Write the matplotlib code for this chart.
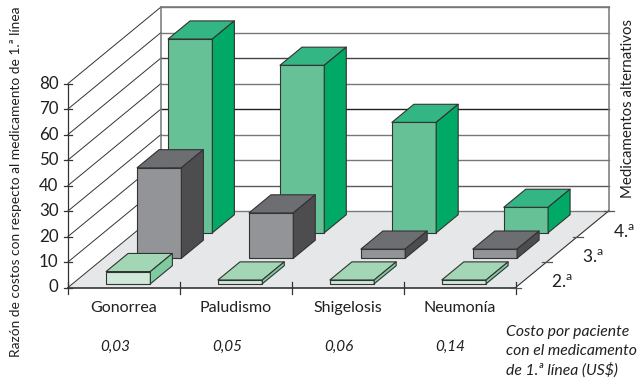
import matplotlib
matplotlib.use("Agg")
import matplotlib.pyplot as plt
from matplotlib.patches import Polygon

plt.rcParams['font.family'] = ['Lato', 'DejaVu Sans']

# === Data ===
categories = ['Gonorrea', 'Paludismo', 'Shigelosis', 'Neumonía']
costs = ['0,03', '0,05', '0,06', '0,14']
lines = ['2.$^{\\mathregular{a}}$', '3.$^{\\mathregular{a}}$', '4.$^{\\mathregular{a}}$']
second_line = [4.8, 1.5, 1.5, 1.5]
third_line = [35.5, 17.8, 3.6, 3.6]
fourth_line = [76, 65.7, 43.3, 10]
y_ticks = [0, 10, 20, 30, 40, 50, 60, 70, 80]

# === Geometry of the fake 3D box, in pixels ===
x0, y0 = 68, 287.5
cat_w = 111.9
unit = 2.55
dep_x, dep_y = 31, 25.5
bar_w = 0.396
bar_d = 0.71
gap_x = 0.30
gap_d = 0.145


def proj(cat, row, val):
    # cat = position along categories, row = depth, val = height
    return (x0 + cat * cat_w + row * dep_x, y0 - row * dep_y - val * unit)


fig = plt.figure(figsize=(6.43, 3.89), dpi=100)
ax = fig.add_axes([0, 0, 1, 1])
ax.set_xlim(0, 643)
ax.set_ylim(389, 0)
ax.axis('off')

dark = '#333333'
txt = '#231f20'
n_cat = len(categories)
n_row = len(lines)

# Floor
ax.add_patch(Polygon([proj(0, 0, 0), proj(n_cat, 0, 0), proj(n_cat, n_row, 0), proj(0, n_row, 0)],
                     fc='#e6e7e8', ec='none', zorder=1))

# Back and side walls
grid_colors = ['#7a7a7a', '#5a5a5a', '#777777', '#777777', '#222222', '#777777', '#444444', '#777777', '#777777']
for v, c in zip(y_ticks, grid_colors):
    a, b, d = proj(0, 0, v), proj(0, n_row, v), proj(n_cat, n_row, v)
    ax.plot([a[0], b[0]], [a[1], b[1]], color='#333333', lw=0.7, zorder=2)
    ax.plot([b[0], d[0]], [b[1], d[1]], color=c, lw=1.0, zorder=2)
top = 80
ax.plot(*zip(proj(0, n_row, 0), proj(0, n_row, top)), color='#777777', lw=1.1, zorder=2)
ax.plot(*zip(proj(n_cat, n_row, 0), proj(n_cat, n_row, top)), color='#777777', lw=1.1, zorder=2)
ax.plot(*zip(proj(0, n_row, top), proj(n_cat, n_row, top)), color='#777777', lw=1.1, zorder=2)

# Axes lines and ticks
ax.plot(*zip(proj(0, 0, 0), proj(0, 0, top)), color=dark, lw=0.9, zorder=3)
ax.plot(*zip(proj(0, 0, 0), proj(n_cat, 0, 0)), color=dark, lw=1.2, zorder=3)
ax.plot(*zip(proj(n_cat, 0, 0), proj(n_cat, n_row, 0)), color=dark, lw=0.8, zorder=3)
for v in y_ticks:
    px, py = proj(0, 0, v)
    ax.plot([px - 4, px + 4], [py, py], color=dark, lw=0.9, zorder=3)
    ax.text(px - 9.5, py, str(v), ha='right', va='center', fontsize=12.2, color=txt)
for i in range(n_cat + 1):
    px, py = proj(i, 0, 0)
    ax.plot([px, px], [py - 6, py + 6], color=dark, lw=0.9, zorder=3)
for r in range(n_row + 1):
    px, py = proj(n_cat, r, 0)
    ax.plot([px - 5, px + 5], [py, py], color='#555555', lw=0.9, zorder=3)

# Bars, back row first
series = [second_line, third_line, fourth_line]
palettes = [('#cfe8da', '#a3d6b5', '#7fcba0'),
            ('#929497', '#6d6e71', '#4d4d4f'),
            ('#66c197', '#33b683', '#00a965')]
z = 10
for r in reversed(range(n_row)):
    for i, v in enumerate(series[r]):
        front, roof, side = palettes[r]
        c0, c1 = i + gap_x, i + gap_x + bar_w
        r0, r1 = r + gap_d, r + gap_d + bar_d
        faces = [([proj(c0, r0, 0), proj(c1, r0, 0), proj(c1, r0, v), proj(c0, r0, v)], front),
                 ([proj(c0, r0, v), proj(c1, r0, v), proj(c1, r1, v), proj(c0, r1, v)], roof),
                 ([proj(c1, r0, 0), proj(c1, r1, 0), proj(c1, r1, v), proj(c1, r0, v)], side)]
        for pts, col in faces:
            ax.add_patch(Polygon(pts, fc=col, ec=dark, lw=0.8, joinstyle='round', zorder=z))
        z += 1

# Labels
for i, (name, cost) in enumerate(zip(categories, costs)):
    px = proj(i + 0.5, 0, 0)[0]
    ax.text(px, 308, name, ha='center', va='center', fontsize=11.5, color=txt)
    ax.text(px - 9, 347, cost, ha='center', va='center', fontsize=11, style='italic', color=txt)

for r, lab in enumerate(lines):
    px, py = proj(n_cat, r, 0)
    ax.text(px + 35, py + 1, lab, ha='left', va='baseline', fontsize=12.5, color=txt)

ax.text(16, 182, 'Razón de costos con respecto al medicamento de 1.ª línea', rotation=90,
        ha='center', va='center', fontsize=9.9, color=txt)
ax.text(628, 108, 'Medicamentos alternativos', rotation=90,
        ha='center', va='center', fontsize=10.8, color=txt)
for y, s in zip([332, 351, 370], ['Costo por paciente', 'con el medicamento', 'de 1.ª línea (US$)']):
    ax.text(506, y, s, ha='left', va='center', fontsize=11.3, style='italic', color=txt)

fig.savefig('out.png', dpi=100)
